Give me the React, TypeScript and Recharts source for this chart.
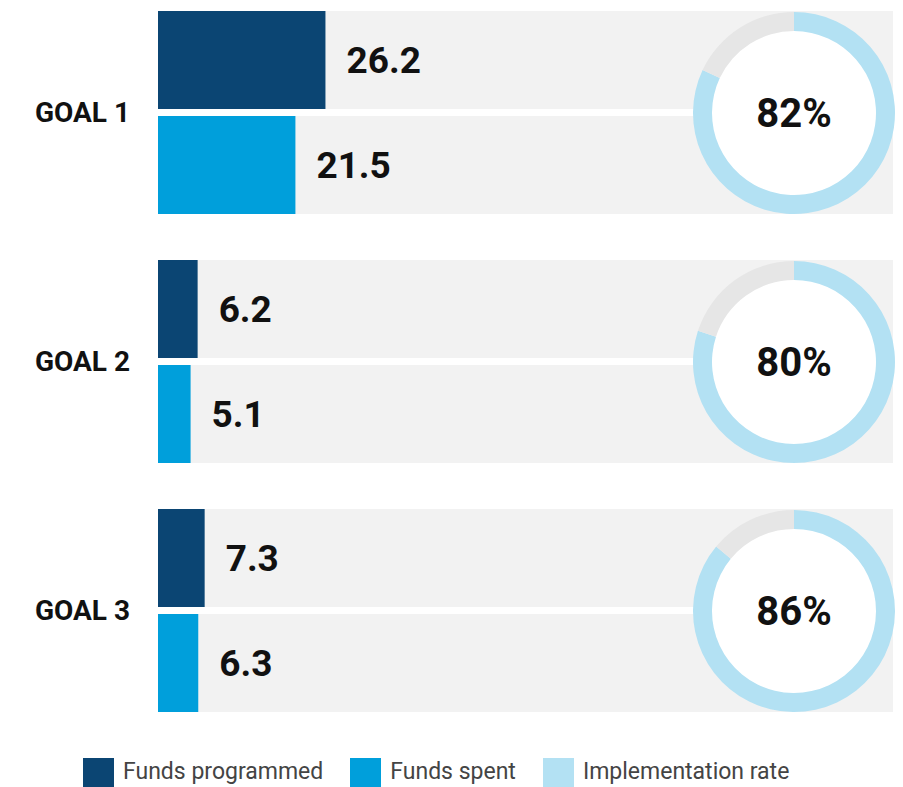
import React from 'react';
import { BarChart, Bar, XAxis, YAxis, LabelList, PieChart, Pie, Cell, Label } from 'recharts';

const goals = ['GOAL 1', 'GOAL 2', 'GOAL 3'];
const fundsProgrammed = [26.2, 6.2, 7.3];
const fundsSpent = [21.5, 5.1, 6.3];
const implementationRate = [82, 80, 86];

const DARK = '#0b4573';
const BRIGHT = '#009fdb';
const LIGHT = '#b3e1f3';
const TRACK = '#e6e6e6';
const BG = '#f2f2f2';
const FONT = 'Roboto, "Open Sans", sans-serif';

const barData = goals.map((goal, i) => ({
  goal,
  programmed: fundsProgrammed[i],
  spent: fundsSpent[i],
}));

const legendItems = [
  { label: 'Funds programmed', color: DARK },
  { label: 'Funds spent', color: BRIGHT },
  { label: 'Implementation rate', color: LIGHT },
];

const Donut: React.FC<{ rate: number; top: number }> = ({ rate, top }) => {
  const data = [
    { name: 'rate', value: rate },
    { name: 'rest', value: 100 - rate },
  ];
  return (
    <div style={{ position: 'absolute', left: 688, top, width: 212, height: 212 }}>
      <PieChart width={212} height={212} margin={{ top: 0, right: 0, bottom: 0, left: 0 }}>
        <Pie
          data={[{ value: 1 }]}
          dataKey="value"
          cx="50%"
          cy="50%"
          innerRadius={0}
          outerRadius={83}
          fill="#ffffff"
          stroke="none"
          isAnimationActive={false}
        />
        <Pie
          data={data}
          dataKey="value"
          cx="50%"
          cy="50%"
          innerRadius={82}
          outerRadius={101}
          startAngle={90}
          endAngle={-270}
          stroke="none"
          isAnimationActive={false}
        >
          <Cell fill={LIGHT} />
          <Cell fill={TRACK} />
          <Label
            value={`${rate}%`}
            position="center"
            fill="#111"
            style={{ fontSize: 40, fontWeight: 700, fontFamily: FONT }}
          />
        </Pie>
      </PieChart>
    </div>
  );
};

const App: React.FC = () => {
  return (
    <div style={{ position: 'absolute', left: 0, top: 0, width: 903, height: 787, background: '#fff', overflow: 'hidden' }}>
      <div style={{ position: 'absolute', left: 0, top: -12 }}>
        <BarChart
          layout="vertical"
          width={903}
          height={747}
          data={barData}
          margin={{ top: 0, right: 10, bottom: 0, left: 0 }}
          barSize={98}
          barGap={7}
        >
          <XAxis type="number" domain={[0, 115]} hide />
          <YAxis
            type="category"
            dataKey="goal"
            width={158}
            axisLine={false}
            tickLine={false}
            tickSize={0}
            tickMargin={28}
            tick={{ fontSize: 28, fontWeight: 700, fill: '#111', fontFamily: FONT }}
          />
          <Bar dataKey="programmed" fill={DARK} background={{ fill: BG }} isAnimationActive={false}>
            <LabelList
              dataKey="programmed"
              position="right"
              offset={21}
              fill="#111"
              style={{ fontSize: 37, fontWeight: 700, fontFamily: FONT }}
            />
          </Bar>
          <Bar dataKey="spent" fill={BRIGHT} background={{ fill: BG }} isAnimationActive={false}>
            <LabelList
              dataKey="spent"
              position="right"
              offset={21}
              fill="#111"
              style={{ fontSize: 37, fontWeight: 700, fontFamily: FONT }}
            />
          </Bar>
        </BarChart>
      </div>
      {implementationRate.map((rate, i) => (
        <Donut key={goals[i]} rate={rate} top={7 + i * 249} />
      ))}
      <div
        style={{
          position: 'absolute',
          left: 83,
          top: 758,
          display: 'flex',
          alignItems: 'flex-start',
          fontFamily: FONT,
          fontWeight: 400,
          fontSize: 23,
          lineHeight: '27px',
          color: '#444',
        }}
      >
        {legendItems.map((item) => (
          <div key={item.label} style={{ display: 'flex', alignItems: 'flex-start', marginRight: 27 }}>
            <span style={{ display: 'inline-block', width: 31, height: 31, background: item.color, marginRight: 9 }} />
            <span>{item.label}</span>
          </div>
        ))}
      </div>
    </div>
  );
};

export default App;
